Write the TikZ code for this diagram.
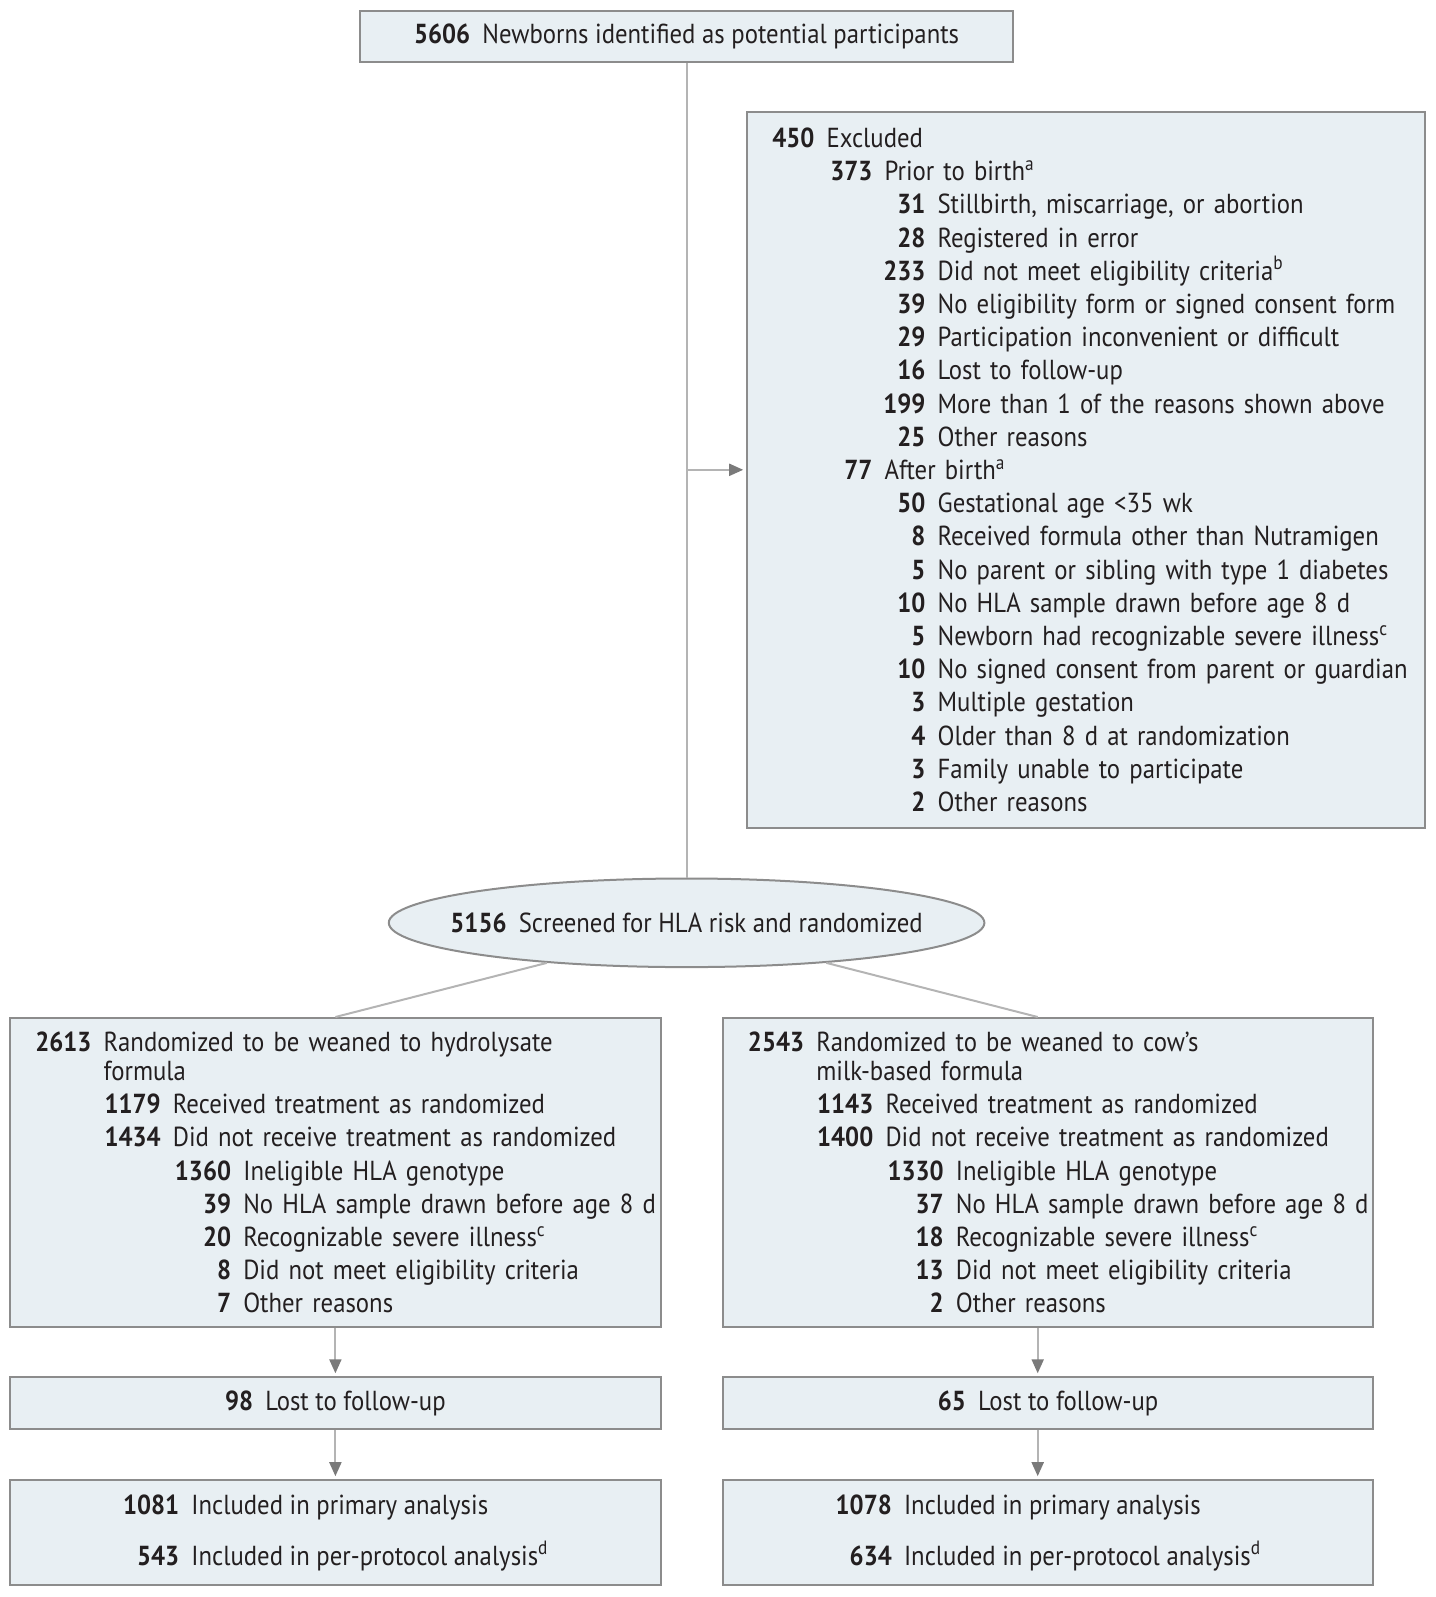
\documentclass[tikz,border=0pt]{standalone}
\usepackage{fontspec}
\setmainfont{PT Sans}[FakeStretch=0.9]
\usetikzlibrary{shapes.geometric,arrows.meta}
\definecolor{boxfill}{HTML}{E8EFF3}
\definecolor{boxline}{HTML}{8C8C8C}
\definecolor{linkline}{HTML}{B4B4B4}
\definecolor{arrowline}{HTML}{7A7A7A}
\definecolor{ink}{HTML}{231F20}
\newcommand{\tally}[3]{\mbox{\makebox[#1][r]{\bfseries #2}\hspace{6.1pt}#3}}
\begin{document}
\begin{tikzpicture}[x=0.5pt,y=-0.5pt,
    font=\fontsize{13.75}{16.6}\selectfont, text=ink,
    box/.style={draw=boxline, fill=boxfill, line width=1pt, inner sep=0pt},
    list/.style={box, align=left},
    link/.style={draw=linkline, line width=1pt},
    arr/.style={link, shorten >=1.5pt, -{Triangle[length=7pt,width=6pt,color=arrowline]}}]
    \useasboundingbox (0,0) rectangle (1436,1597);
    \node[box, minimum width=326.3pt, minimum height=25.45pt] (top) at (686.6,36.6)
        {\textbf{5606}\hspace{6.1pt}Newborns identified as potential participants};
    \node[list, text width=339pt, minimum height=357.8pt] (excl) at (1086.2,469.8) {%
        \tally{33.6pt}{450}{Excluded}\\
        \tally{62.6pt}{373}{Prior to birth\textsuperscript{a}}\\
        \tally{89.1pt}{31}{Stillbirth, miscarriage, or abortion}\\
        \tally{89.1pt}{28}{Registered in error}\\
        \tally{89.1pt}{233}{Did not meet eligibility criteria\textsuperscript{b}}\\
        \tally{89.1pt}{39}{No eligibility form or signed consent form}\\
        \tally{89.1pt}{29}{Participation inconvenient or difficult}\\
        \tally{89.1pt}{16}{Lost to follow-up}\\
        \tally{89.1pt}{199}{More than 1 of the reasons shown above}\\
        \tally{89.1pt}{25}{Other reasons}\\
        \tally{62.6pt}{77}{After birth\textsuperscript{a}}\\
        \tally{89.1pt}{50}{Gestational age <35 wk}\\
        \tally{89.1pt}{8}{Received formula other than Nutramigen}\\
        \tally{89.1pt}{5}{No parent or sibling with type 1 diabetes}\\
        \tally{89.1pt}{10}{No HLA sample drawn before age 8 d}\\
        \tally{89.1pt}{5}{Newborn had recognizable severe illness\textsuperscript{c}}\\
        \tally{89.1pt}{10}{No signed consent from parent or guardian}\\
        \tally{89.1pt}{3}{Multiple gestation}\\
        \tally{89.1pt}{4}{Older than 8 d at randomization}\\
        \tally{89.1pt}{3}{Family unable to participate}\\
        \tally{89.1pt}{2}{Other reasons}};
    \node[box, ellipse, minimum width=297.8pt, minimum height=44.3pt] (scr) at (686.6,922.8)
        {\makebox[0pt]{\textbf{5156}\hspace{6.1pt}Screened for HLA risk and randomized}};
    \node[list, text width=325.3pt, minimum height=154.7pt] (hyd) at (335.4,1172.7) {%
        \tally{40.7pt}{2613}{Randomized to be weaned to hydrolysate}\\[-2.3pt]
        \hspace*{46.8pt}formula\\
        \tally{75.3pt}{1179}{Received treatment as randomized}\\
        \tally{75.3pt}{1434}{Did not receive treatment as randomized}\\
        \tally{110.5pt}{1360}{Ineligible HLA genotype}\\
        \tally{110.5pt}{39}{No HLA sample drawn before age 8 d}\\
        \tally{110.5pt}{20}{Recognizable severe illness\textsuperscript{c}}\\
        \tally{110.5pt}{8}{Did not meet eligibility criteria}\\
        \tally{110.5pt}{7}{Other reasons}};
    \node[list, text width=325.3pt, minimum height=154.7pt] (cow) at (1048,1172.7) {%
        \tally{40.7pt}{2543}{Randomized to be weaned to cow’s}\\[-2.3pt]
        \hspace*{46.8pt}milk-based formula\\
        \tally{75.3pt}{1143}{Received treatment as randomized}\\
        \tally{75.3pt}{1400}{Did not receive treatment as randomized}\\
        \tally{110.5pt}{1330}{Ineligible HLA genotype}\\
        \tally{110.5pt}{37}{No HLA sample drawn before age 8 d}\\
        \tally{110.5pt}{18}{Recognizable severe illness\textsuperscript{c}}\\
        \tally{110.5pt}{13}{Did not meet eligibility criteria}\\
        \tally{110.5pt}{2}{Other reasons}};
    \node[box, minimum width=325.3pt, minimum height=26pt] (hydlost) at (335.4,1403.3)
        {\textbf{98}\hspace{6.1pt}Lost to follow-up};
    \node[box, minimum width=325.3pt, minimum height=26pt] (cowlost) at (1048,1403.3)
        {\textbf{65}\hspace{6.1pt}Lost to follow-up};
    \node[list, minimum width=325.3pt, minimum height=52.4pt] (hydfin) at (335.4,1532.6) {%
        \tally{28.5pt}{1081}{Included in primary analysis}\\[8.9pt]
        \tally{28.5pt}{543}{Included in per-protocol analysis\textsuperscript{d}}};
    \node[list, minimum width=325.3pt, minimum height=52.4pt] (cowfin) at (1048,1532.6) {%
        \tally{28.5pt}{1078}{Included in primary analysis}\\[8.9pt]
        \tally{28.5pt}{634}{Included in per-protocol analysis\textsuperscript{d}}};
    \draw[link] (top) -- (scr);
    \draw[arr] (top.south |- excl.west) -- (excl.west);
    \draw[link] (scr.196) -- (hyd.north);
    \draw[link] (scr.-16) -- ([xshift=-5.15pt]cow.north);
    \draw[arr] (hyd) -- (hydlost);
    \draw[arr] ([xshift=-5.15pt]cow.south) -- ([xshift=-5.15pt]cowlost.north);
    \draw[arr] (hydlost) -- (hydfin);
    \draw[arr] ([xshift=-5.15pt]cowlost.south) -- ([xshift=-5.15pt]cowfin.north);
\end{tikzpicture}
\end{document}
